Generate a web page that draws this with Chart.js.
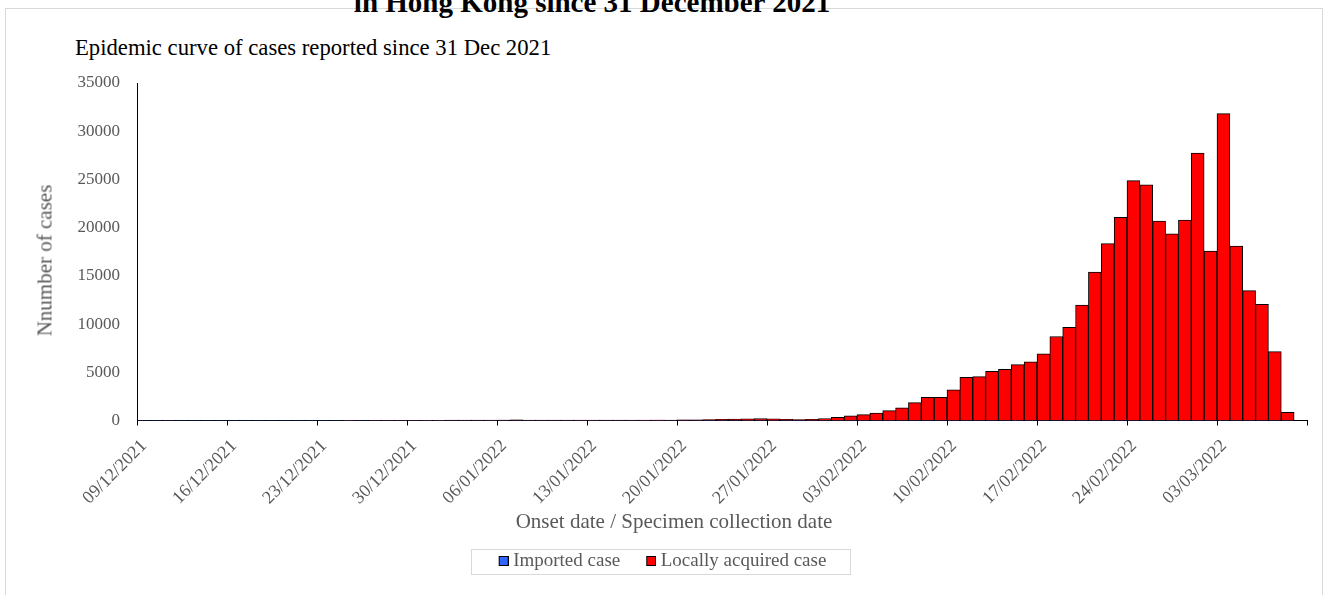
<!DOCTYPE html>
<html><head><meta charset="utf-8">
<script src="https://cdn.jsdelivr.net/npm/chart.js@4/dist/chart.umd.min.js"></script>
<style>
html,body{margin:0;padding:0;background:#fff;}
#wrap{position:relative;width:1325px;height:595px;overflow:hidden;}
#frame{position:absolute;left:5px;top:8px;width:1316px;height:620px;border:1px solid #d9d9d9;}
#mainTitle{position:absolute;left:0;width:1184px;text-align:center;top:-14px;line-height:29px;font:bold 29px 'Liberation Serif',serif;color:#000;white-space:nowrap;}
#subTitle{position:absolute;left:75px;top:36px;line-height:23px;font-size:22.7px;font-family:'Liberation Serif',serif;color:#000;white-space:nowrap;}
.axisTitle{position:absolute;font-size:21px;line-height:21px;font-family:'Liberation Serif',serif;color:#595959;white-space:nowrap;}
#xTitle{left:474px;width:400px;text-align:center;top:511px;}
#yTitle{left:-155px;width:400px;text-align:center;top:250px;transform:rotate(-90deg);}
canvas{position:absolute;left:0;top:0;}
</style></head>
<body><div id="wrap"><div id="frame"></div>
<div id="mainTitle">in Hong Kong since 31 December 2021</div>
<div id="subTitle">Epidemic curve of cases reported since 31 Dec 2021</div>
<canvas id="c" width="1325" height="595"></canvas>
<div id="xTitle" class="axisTitle">Onset date / Specimen collection date</div>
<div id="yTitle" class="axisTitle">Nnumber of cases</div>
</div>
<script>
const dates = [
'09/12/2021','10/12/2021','11/12/2021','12/12/2021','13/12/2021','14/12/2021','15/12/2021','16/12/2021','17/12/2021','18/12/2021','19/12/2021','20/12/2021','21/12/2021','22/12/2021','23/12/2021','24/12/2021','25/12/2021','26/12/2021','27/12/2021','28/12/2021','29/12/2021','30/12/2021','31/12/2021',
'01/01/2022','02/01/2022','03/01/2022','04/01/2022','05/01/2022','06/01/2022','07/01/2022','08/01/2022','09/01/2022','10/01/2022','11/01/2022','12/01/2022','13/01/2022','14/01/2022','15/01/2022','16/01/2022','17/01/2022','18/01/2022','19/01/2022','20/01/2022','21/01/2022','22/01/2022','23/01/2022','24/01/2022','25/01/2022','26/01/2022','27/01/2022','28/01/2022','29/01/2022','30/01/2022','31/01/2022',
'01/02/2022','02/02/2022','03/02/2022','04/02/2022','05/02/2022','06/02/2022','07/02/2022','08/02/2022','09/02/2022','10/02/2022','11/02/2022','12/02/2022','13/02/2022','14/02/2022','15/02/2022','16/02/2022','17/02/2022','18/02/2022','19/02/2022','20/02/2022','21/02/2022','22/02/2022','23/02/2022','24/02/2022','25/02/2022','26/02/2022','27/02/2022','28/02/2022',
'01/03/2022','02/03/2022','03/03/2022','04/03/2022','05/03/2022','06/03/2022','07/03/2022','08/03/2022','09/03/2022'];

const tickLabels = ['09/12/2021','16/12/2021','23/12/2021','30/12/2021','06/01/2022','13/01/2022','20/01/2022','27/01/2022','03/02/2022','10/02/2022','17/02/2022','24/02/2022','03/03/2022'];

const seriesNames = ['Imported case','Locally acquired case'];
const seriesColors = ['#3366ff','#ff0000'];

const importedCases = [
8,5,3,6,10,4,7,5,9,6,4,8,11,7,5,9,6,10,8,12,7,9,11,
10,12,8,9,6,11,14,9,7,10,12,8,6,9,11,7,10,13,9,8,12,10,9,11,8,7,10,12,9,8,11,
10,9,12,14,11,8,10,13,9,12,8,10,11,9,12,10,8,13,11,9,12,10,8,11,9,13,10,12,
11,9,10,12,8,10,9,5,0];

const localCases = [
0,0,1,0,0,0,0,0,0,0,0,0,0,0,0,0,1,0,2,3,5,8,12,
20,25,30,28,35,40,45,38,32,30,35,40,42,38,35,30,32,36,40,55,70,90,110,130,170,190,160,100,90,120,200,
330,470,600,750,1020,1300,1850,2400,2400,3160,4480,4540,5100,5310,5790,6070,6900,8700,9640,11960,15370,18330,21070,24870,24420,20660,19340,20760,
27710,17550,31820,18070,13460,12050,7140,850,0];

const toPoints = arr => arr.map((v, i) => ({x: i + 0.5, y: v}));
const FONT = 'Liberation Serif';
const GREY = '#595959';

// legend swatch: 10x10 square placed on the right half of a 20x10 canvas
function swatch(color) {
  const c = document.createElement('canvas');
  c.width = 20; c.height = 10;
  const g = c.getContext('2d');
  g.fillStyle = color; g.fillRect(10, 0, 10, 10);
  g.strokeStyle = '#000'; g.lineWidth = 1; g.strokeRect(10.5, 0.5, 9, 9);
  return c;
}

const legendFrame = {
  id: 'legendFrame',
  afterDraw(chart) {
    const lg = chart.legend;
    if (!lg || !lg.legendHitBoxes || !lg.legendHitBoxes.length) return;
    const hb = lg.legendHitBoxes;
    const l = Math.min(...hb.map(h => h.left)) + 5 - 28;
    const r = Math.max(...hb.map(h => h.left + h.width)) + 23;
    const cy = hb[0].top + hb[0].height / 2;
    const ctx = chart.ctx;
    ctx.save();
    ctx.strokeStyle = '#d9d9d9';
    ctx.lineWidth = 1;
    ctx.strokeRect(Math.round(l) + 0.5, Math.round(cy - 12.5) + 0.5, Math.round(r - l), 25);
    ctx.restore();
  }
};

new Chart(document.getElementById('c'), {
  type: 'bar',
  data: {
    datasets: [
      {label: seriesNames[0], data: toPoints(importedCases), backgroundColor: seriesColors[0], borderColor: '#000', borderWidth: 1, pointStyle: swatch(seriesColors[0])},
      {label: seriesNames[1], data: toPoints(localCases), backgroundColor: seriesColors[1], borderColor: '#000', borderWidth: 1, pointStyle: swatch(seriesColors[1])}
    ]
  },
  options: {
    responsive: false,
    animation: false,
    barPercentage: 1,
    categoryPercentage: 1,
    layout: {padding: {left: 13, right: 18, top: 83, bottom: 14.5}},
    scales: {
      x: {
        type: 'linear', stacked: true, min: 0, max: dates.length, offset: false,
        ticks: {
          stepSize: 7, autoSkip: false, minRotation: 45, maxRotation: 45, color: GREY,
          font: {family: FONT, size: 18}, padding: 10, labelOffset: 7,
          callback: v => (tickLabels[v / 7] !== undefined ? tickLabels[v / 7] : '')
        },
        grid: {display: true, offset: false, drawOnChartArea: false, drawTicks: true, tickLength: 5, color: '#000'},
        border: {display: true, color: '#000', width: 1},
        title: {display: false},
        afterFit(s) { s.height = 110; s.paddingRight = 0; s.paddingLeft = 0; }
      },
      y: {
        stacked: true, min: 0, max: 35000,
        ticks: {stepSize: 5000, color: GREY, font: {family: FONT, size: 17}, padding: 17, callback: v => String(v)},
        grid: {display: true, drawOnChartArea: false, drawTicks: false},
        border: {display: true, color: '#000', width: 1},
        title: {display: false},
        afterFit(s) { s.width = 124; }
      }
    },
    plugins: {
      legend: {
        position: 'bottom',
        labels: {usePointStyle: true, boxWidth: 10, boxHeight: 10, padding: 21, color: GREY, font: {family: FONT, size: 19}}
      },
      tooltip: {callbacks: {title: items => dates[Math.floor(items[0].parsed.x)]}}
    }
  },
  plugins: [legendFrame]
});
</script>
</body></html>
